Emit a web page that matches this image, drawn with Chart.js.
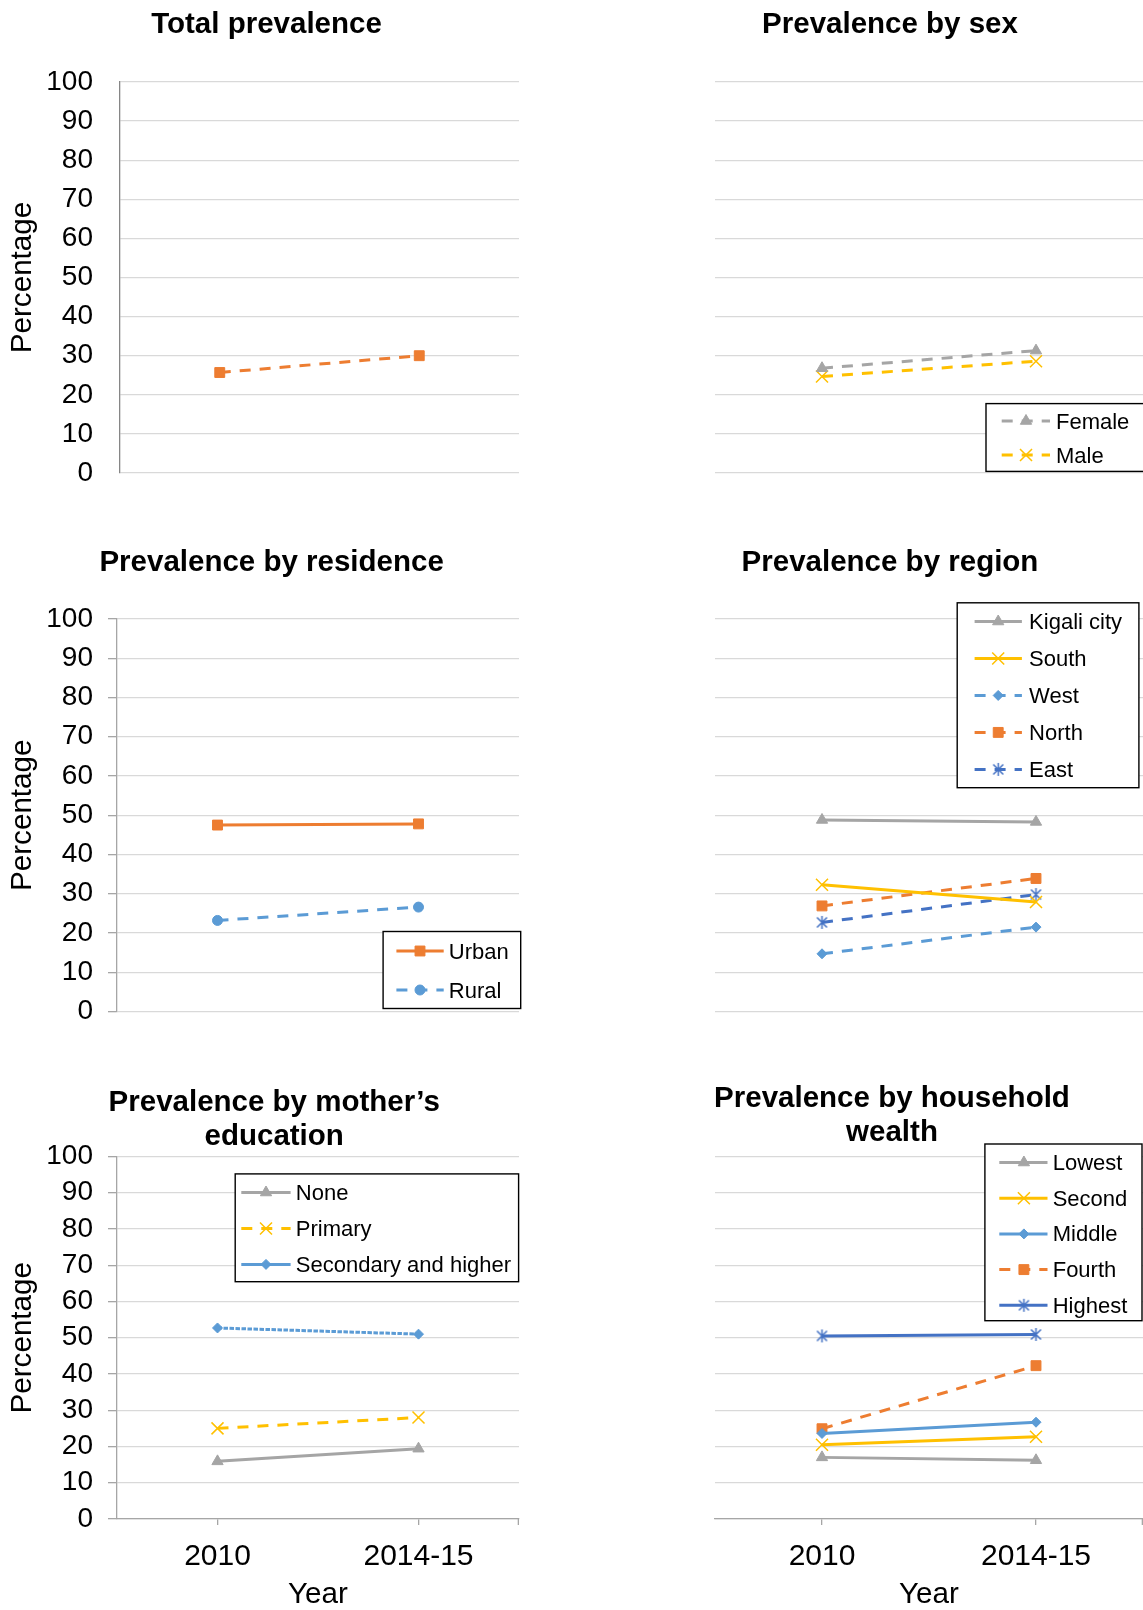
<!DOCTYPE html>
<html>
<head>
<meta charset="utf-8">
<title>Prevalence 2010 vs 2014-15</title>
<script src="https://cdn.jsdelivr.net/npm/chart.js@4.4.1/dist/chart.umd.min.js"></script>
<style>
  html, body { margin: 0; padding: 0; background: #fff; overflow: hidden; }
  body { width: 1143px; height: 1610px; position: relative; }
  .panel { position: absolute; }
  canvas { display: block; }
</style>
</head>
<body>
<div class="panel" style="left:0;top:0"><canvas id="cTotal" width="540" height="510"></canvas></div>
<div class="panel" style="left:640px;top:0"><canvas id="cSex" width="503" height="510"></canvas></div>
<div class="panel" style="left:0;top:510px"><canvas id="cResidence" width="540" height="530"></canvas></div>
<div class="panel" style="left:640px;top:510px"><canvas id="cRegion" width="503" height="530"></canvas></div>
<div class="panel" style="left:0;top:1040px"><canvas id="cEducation" width="540" height="573"></canvas></div>
<div class="panel" style="left:640px;top:1040px"><canvas id="cWealth" width="503" height="573"></canvas></div>

<script>
// ---- data ----
const years = ['2010', '2014-15'];
const percentTicks = [0, 10, 20, 30, 40, 50, 60, 70, 80, 90, 100];

const totalPrev = [25.7, 30.0];

const femalePrev = [26.8, 31.3];
const malePrev = [24.7, 28.6];

const urbanPrev = [47.5, 47.8];
const ruralPrev = [23.2, 26.6];

const kigaliPrev = [48.8, 48.3];
const southPrev = [32.3, 27.9];
const westPrev = [14.7, 21.5];
const northPrev = [26.9, 33.9];
const eastPrev = [22.7, 29.8];

const eduNonePrev = [15.9, 19.4];
const eduPrimaryPrev = [25.0, 28.0];
const eduSecondaryPrev = [52.7, 51.0];

const wealthLowestPrev = [17.0, 16.2];
const wealthSecondPrev = [20.5, 22.7];
const wealthMiddlePrev = [23.6, 26.7];
const wealthFourthPrev = [24.9, 42.3];
const wealthHighestPrev = [50.5, 50.9];

// ---- styling ----
const FONT = "'Liberation Sans', Arial, Helvetica, sans-serif";
Chart.defaults.font.family = FONT;
Chart.defaults.color = '#000';

const ORANGE = '#ED7D31', GRAY = '#A5A5A5', GOLD = '#FFC000', BLUE = '#5B9BD5', NAVY = '#4472C4';
const DASH = [11, 9];
const GRID = '#D9D9D9';

// asterisk marker: an x with a vertical stroke through it
function asteriskMarker(color) {
  const size = 15;
  const c = document.createElement('canvas');
  c.width = size; c.height = size;
  const g = c.getContext('2d');
  g.strokeStyle = color; g.lineWidth = 1.5;
  const m = size / 2, d = 5, v = 6.5;
  g.beginPath();
  g.moveTo(m - d, m - d); g.lineTo(m + d, m + d);
  g.moveTo(m + d, m - d); g.lineTo(m - d, m + d);
  g.moveTo(m, m - v); g.lineTo(m, m + v);
  g.stroke();
  return c;
}

const MARKERS = {
  square:   { pointStyle: 'rect', pointRadius: 7, pointBorderWidth: 1 },
  triangle: { pointStyle: 'triangle', pointRadius: 6.5, pointBorderWidth: 1 },
  cross:    { pointStyle: 'crossRot', pointRadius: 8.5, pointBorderWidth: 1.5 },
  circle:   { pointStyle: 'circle', pointRadius: 5, pointBorderWidth: 1 },
  diamond:  { pointStyle: 'rectRot', pointRadius: 5, pointBorderWidth: 1 },
  asterisk: { pointRadius: 7, pointBorderWidth: 1.5 }
};

function series(label, data, color, marker, dash, legendDash) {
  const m = MARKERS[marker];
  return Object.assign({
    label: label,
    data: data,
    borderColor: color,
    backgroundColor: color,
    borderWidth: 3,
    borderDash: dash || [],
    legendDash: legendDash || dash || [],
    pointBackgroundColor: color,
    pointBorderColor: color,
    tension: 0,
    fill: false
  }, m, marker === 'asterisk' ? { pointStyle: asteriskMarker(color) } : {});
}

// ---- plugins ----
const panelTitle = {
  id: 'panelTitle',
  afterDraw(chart, args, opts) {
    if (!opts || !opts.lines) return;
    const ctx = chart.ctx;
    ctx.save();
    ctx.font = 'bold 29.5px ' + FONT;
    ctx.fillStyle = '#000';
    ctx.textAlign = 'center';
    ctx.textBaseline = 'middle';
    opts.lines.forEach((t, i) => ctx.fillText(t, opts.x, opts.y + i * opts.gap));
    ctx.restore();
  }
};

const boxLegend = {
  id: 'boxLegend',
  afterDatasetsDraw(chart, args, opts) {
    if (!opts || !opts.box) return;
    const ctx = chart.ctx;
    const [bx, by, bw, bh] = opts.box;
    ctx.save();
    ctx.fillStyle = '#fff';
    ctx.fillRect(bx, by, bw, bh);
    ctx.lineWidth = 1.4;
    ctx.strokeStyle = '#000';
    ctx.strokeRect(bx, by, bw, bh);
    chart.data.datasets.forEach((ds, i) => {
      const y = opts.firstRow + i * opts.rowGap;
      ctx.save();
      ctx.strokeStyle = ds.borderColor;
      ctx.lineWidth = ds.borderWidth;
      ctx.setLineDash(ds.legendDash || []);
      ctx.beginPath();
      ctx.moveTo(opts.lineX[0], y);
      ctx.lineTo(opts.lineX[1], y);
      ctx.stroke();
      ctx.restore();

      ctx.save();
      ctx.fillStyle = ds.pointBackgroundColor;
      ctx.strokeStyle = ds.pointBorderColor;
      ctx.lineWidth = ds.pointBorderWidth;
      Chart.helpers.drawPoint(ctx, {
        pointStyle: ds.pointStyle, radius: ds.pointRadius, rotation: 0, borderWidth: ds.pointBorderWidth
      }, opts.markerX, y);
      ctx.restore();

      ctx.save();
      ctx.fillStyle = '#000';
      ctx.font = '22px ' + FONT;
      ctx.textAlign = 'left';
      ctx.textBaseline = 'middle';
      ctx.fillText(ds.label, opts.textX, y + 1.5);
      ctx.restore();
    });
    ctx.restore();
  }
};

// tick mark at the right end of the category axis
const edgeTick = {
  id: 'edgeTick',
  afterDraw(chart, args, opts) {
    if (!opts || !opts.enabled) return;
    const a = chart.chartArea, ctx = chart.ctx;
    ctx.save();
    ctx.strokeStyle = opts.color;
    ctx.lineWidth = 1.3;
    ctx.beginPath();
    ctx.moveTo(a.right - 0.65, a.bottom);
    ctx.lineTo(a.right - 0.65, a.bottom + opts.length);
    ctx.stroke();
    ctx.restore();
  }
};

// ---- scales ----
function yScale(kind) {
  // kind: 'plain' (axis line, no tick marks), 'ticked' (axis line with tick marks), 'bare' (gridlines only)
  const labelled = kind !== 'bare';
  const axisColor = kind === 'plain' ? '#868686' : '#A6A6A6';
  const width = kind === 'plain' ? 120 : (kind === 'ticked' ? 117 : 0);
  return {
    type: 'linear',
    min: 0,
    max: 100,
    afterBuildTicks: s => { s.ticks = percentTicks.map(v => ({ value: v })); },
    ticks: {
      display: labelled,
      autoSkip: false,
      font: { size: 28 },
      color: '#000',
      padding: kind === 'ticked' ? 15 : 27
    },
    grid: {
      color: GRID,
      lineWidth: 1.3,
      drawTicks: kind === 'ticked',
      tickLength: 9,
      tickColor: axisColor
    },
    border: { display: labelled, color: axisColor, width: 1.3 },
    title: {
      display: labelled,
      text: 'Percentage',
      font: { size: 29.6 },
      color: '#000',
      padding: { top: 5, bottom: 0 }
    },
    afterFit: s => {
      s.width = width;
      // the plot box is placed by the layout padding alone
      s.paddingTop = 0;
      s.paddingBottom = 0;
    }
  };
}

function xScale(withAxis) {
  if (!withAxis) {
    return { type: 'category', labels: years, offset: true, display: false };
  }
  return {
    type: 'category',
    labels: years,
    offset: true,
    ticks: { font: { size: 30 }, color: '#000', padding: 13.5, maxRotation: 0, autoSkip: false },
    grid: { drawOnChartArea: false, offset: false, drawTicks: true, tickLength: 6, tickColor: '#A6A6A6', lineWidth: 1.3 },
    border: { display: true, color: '#A6A6A6', width: 1.3 },
    title: { display: true, text: 'Year', font: { size: 29.6 }, color: '#000', padding: { top: 0, bottom: 0 } },
    afterFit: s => { s.height = 94; s.paddingLeft = 0; s.paddingRight = 0; }
  };
}

function makeChart(id, datasets, o) {
  return new Chart(document.getElementById(id), {
    type: 'line',
    data: { labels: years, datasets: datasets },
    options: {
      responsive: false,
      animation: false,
      events: [],
      layout: { padding: o.padding, autoPadding: false },
      scales: { x: xScale(o.xAxis), y: yScale(o.yKind) },
      plugins: {
        legend: { display: false },
        tooltip: { enabled: false },
        title: { display: false },
        panelTitle: o.title,
        boxLegend: o.legend || {},
        edgeTick: { enabled: !!o.xAxis, color: '#A6A6A6', length: 6 }
      }
    },
    plugins: [panelTitle, boxLegend, edgeTick]
  });
}

// ---- panels ----
makeChart('cTotal', [
  series('Total', totalPrev, ORANGE, 'square', DASH)
], {
  padding: { left: 0, top: 82, right: 21, bottom: 37 },
  yKind: 'plain', xAxis: false,
  title: { lines: ['Total prevalence'], x: 266.5, y: 24.6, gap: 34 }
});

makeChart('cSex', [
  series('Female', femalePrev, GRAY, 'triangle', DASH),
  series('Male', malePrev, GOLD, 'cross', DASH)
], {
  padding: { left: 75, top: 82, right: 0, bottom: 37 },
  yKind: 'bare', xAxis: false,
  title: { lines: ['Prevalence by sex'], x: 250, y: 24.6, gap: 34 },
  legend: { box: [346, 403.6, 170, 67.8], firstRow: 421, rowGap: 34, lineX: [361.7, 410], markerX: 386, textX: 416 }
});

makeChart('cResidence', [
  series('Urban', urbanPrev, ORANGE, 'square'),
  series('Rural', ruralPrev, BLUE, 'circle', DASH)
], {
  padding: { left: 0, top: 109, right: 21, bottom: 28.5 },
  yKind: 'ticked', xAxis: false,
  title: { lines: ['Prevalence by residence'], x: 271.6, y: 52.7, gap: 34 },
  legend: { box: [383.1, 421.5, 137.6, 77], firstRow: 441, rowGap: 39, lineX: [396.4, 443.7], markerX: 420, textX: 448.8 }
});

makeChart('cRegion', [
  series('Kigali city', kigaliPrev, GRAY, 'triangle'),
  series('South', southPrev, GOLD, 'cross'),
  series('West', westPrev, BLUE, 'diamond', DASH),
  series('North', northPrev, ORANGE, 'square', DASH),
  series('East', eastPrev, NAVY, 'asterisk', DASH)
], {
  padding: { left: 75, top: 109, right: 0, bottom: 28.5 },
  yKind: 'bare', xAxis: false,
  title: { lines: ['Prevalence by region'], x: 250, y: 52.7, gap: 34 },
  legend: { box: [317.2, 92.8, 181.7, 184.9], firstRow: 111.5, rowGap: 36.97, lineX: [334.6, 381.9], markerX: 358.2, textX: 389.1 }
});

makeChart('cEducation', [
  series('None', eduNonePrev, GRAY, 'triangle'),
  series('Primary', eduPrimaryPrev, GOLD, 'cross', DASH),
  series('Secondary and higher', eduSecondaryPrev, BLUE, 'diamond', [4.5, 1.5], [])
], {
  padding: { left: 0, top: 116.5, right: 21, bottom: 0 },
  yKind: 'ticked', xAxis: true,
  title: { lines: ['Prevalence by mother’s', 'education'], x: 274.2, y: 62.9, gap: 33.9 },
  legend: { box: [235.2, 133.9, 283.4, 107.8], firstRow: 152.5, rowGap: 35.95, lineX: [241.3, 290.6], markerX: 266, textX: 295.8 }
});

makeChart('cWealth', [
  series('Lowest', wealthLowestPrev, GRAY, 'triangle'),
  series('Second', wealthSecondPrev, GOLD, 'cross'),
  series('Middle', wealthMiddlePrev, BLUE, 'diamond'),
  series('Fourth', wealthFourthPrev, ORANGE, 'square', DASH),
  series('Highest', wealthHighestPrev, NAVY, 'asterisk')
], {
  padding: { left: 75, top: 116.5, right: 0, bottom: 0 },
  yKind: 'bare', xAxis: true,
  title: { lines: ['Prevalence by household', 'wealth'], x: 252, y: 58.8, gap: 33.9 },
  legend: { box: [344.9, 104, 157.1, 176.7], firstRow: 122.5, rowGap: 35.7, lineX: [359.3, 407.5], markerX: 383.9, textX: 412.7 }
});
</script>
</body>
</html>
